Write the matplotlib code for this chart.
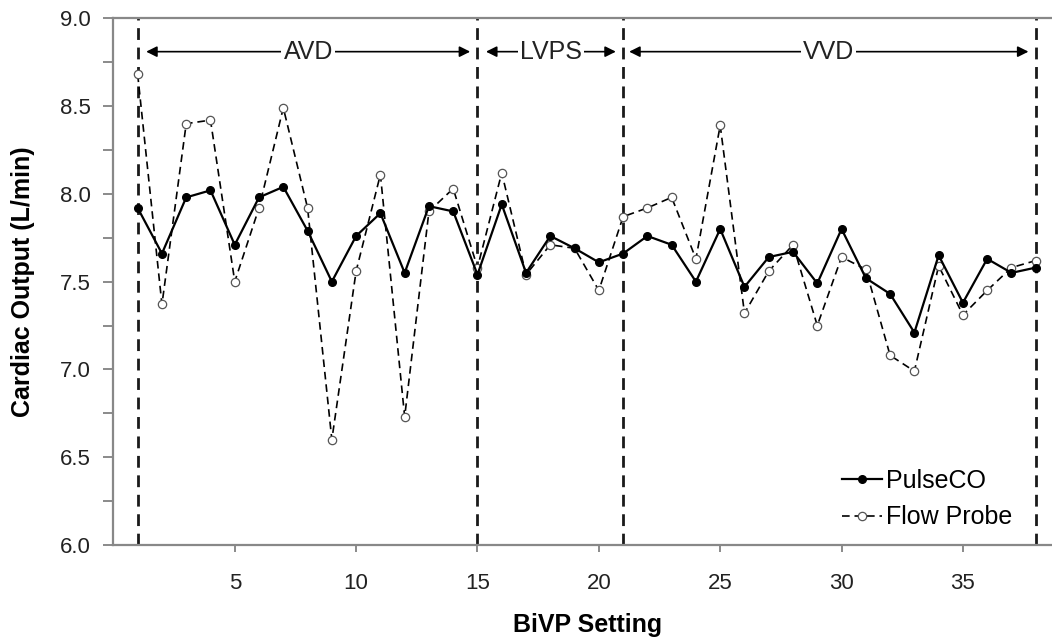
import numpy as np
import matplotlib
matplotlib.use('Agg')
import matplotlib.pyplot as plt

plt.rcParams['font.family'] = ['Liberation Sans', 'DejaVu Sans']
plt.rcParams['lines.scale_dashes'] = False

# BiVP settings and cardiac output (L/min)
setting = np.arange(1, 39)
pulse_co = [7.92, 7.66, 7.98, 8.02, 7.71, 7.98, 8.04, 7.79, 7.50, 7.76,
            7.89, 7.55, 7.93, 7.90, 7.54, 7.94, 7.55, 7.76, 7.69, 7.61,
            7.66, 7.76, 7.71, 7.50, 7.80, 7.47, 7.64, 7.67, 7.49, 7.80,
            7.52, 7.43, 7.21, 7.65, 7.38, 7.63, 7.55, 7.58]
flow_probe = [8.68, 7.37, 8.40, 8.42, 7.50, 7.92, 8.49, 7.92, 6.60, 7.56,
              8.11, 6.73, 7.90, 8.03, 7.58, 8.12, 7.54, 7.71, 7.69, 7.45,
              7.87, 7.92, 7.98, 7.63, 8.39, 7.32, 7.56, 7.71, 7.25, 7.64,
              7.57, 7.08, 6.99, 7.59, 7.31, 7.45, 7.58, 7.62]

# pacing mode blocks
boundaries = [1, 15, 21, 38]
mode_names = ['AVD', 'LVPS', 'VVD']
arrow_ends = [(1.35, 14.7), (15.35, 20.7), (21.25, 37.7)]

fig = plt.figure(figsize=(10.52, 6.42), dpi=100)
ax = fig.add_axes([113.4/1052, 1-545/642, 1-113.4/1052, (545-18.3)/642])

for b in boundaries:
    ax.axvline(b, color='#1a1a1a', lw=2.0, ls=(0, (8.5, 5.5)), zorder=1)

ax.plot(setting, flow_probe, color='black', lw=1.2, ls=(0, (5.5, 3.5)),
        marker='o', ms=6, mfc='white', mec='#555555', mew=0.9,
        label='Flow Probe', zorder=2)
ax.plot(setting, pulse_co, color='black', lw=1.6, marker='o', ms=5.5,
        mfc='black', mec='black', label='PulseCO', zorder=3)

y_arrow = 8.81
for name, (x0, x1) in zip(mode_names, arrow_ends):
    ax.annotate('', xy=(x0, y_arrow), xytext=(x1, y_arrow),
                arrowprops=dict(arrowstyle='<|-|>', color='black', lw=1.2,
                                mutation_scale=16, shrinkA=0, shrinkB=0))
    ax.text((x0 + x1) / 2, y_arrow, name, fontsize=18, ha='center', va='center',
            color='#222222',
            bbox=dict(fc='white', ec='none', pad=1.5))

ax.set_xlim(0, 38.67)
ax.set_ylim(6.0, 9.0)
ax.set_xticks([5, 10, 15, 20, 25, 30, 35])
ax.set_yticks(np.arange(6.0, 9.01, 0.5))
ax.set_yticks(np.arange(6.0, 9.01, 0.25), minor=True)
ax.set_yticklabels(['%.1f' % v for v in np.arange(6.0, 9.01, 0.5)])

ax.tick_params(axis='y', which='both', direction='out', length=7, width=1.2,
               color='#777777', labelsize=16, labelcolor='#222222', pad=9)
ax.tick_params(axis='x', direction='out', length=5, width=1.2,
               color='#777777', labelsize=16, labelcolor='#222222', pad=15)

for side in ['left', 'bottom', 'top']:
    ax.spines[side].set_color('#888888')
    ax.spines[side].set_linewidth(1.6)
ax.spines['right'].set_visible(False)

ax.set_xlabel('BiVP Setting', fontsize=18, fontweight='bold')
ax.set_ylabel('Cardiac Output (L/min)', fontsize=18, fontweight='bold')
ax.xaxis.set_label_coords(0.5056, -0.129)
ax.yaxis.set_label_coords(-0.0835, 0.5)

handles, labels = ax.get_legend_handles_labels()
leg = ax.legend(handles[::-1], labels[::-1], loc='center left',
                bbox_to_anchor=(842/1052, 1-499/642), bbox_transform=fig.transFigure,
                frameon=False, fontsize=18, handlelength=1.6, handletextpad=0.15,
                borderpad=0, borderaxespad=0, labelspacing=0.5)

fig.savefig('out.png', dpi=100)
